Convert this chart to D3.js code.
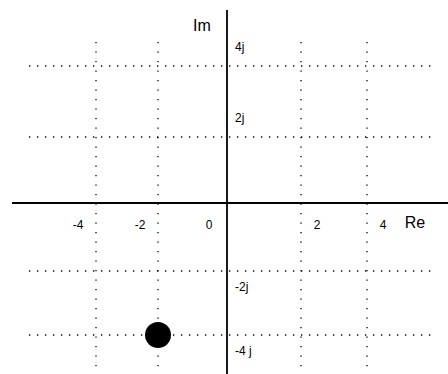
<!DOCTYPE html>
<html>
<head>
<meta charset="utf-8">
<script src="https://cdn.jsdelivr.net/npm/d3@7"></script>
<style>
  body { margin: 0; background: #fff; }
  text { font-family: "Liberation Sans", Arial, sans-serif; fill: #000; }
</style>
</head>
<body>
<div id="chart"></div>
<script>
const WIDTH = 448;
const HEIGHT = 374;

// tick values and labels
const reTicks = [-4, -2, 0, 2, 4];
const reLabels = ["-4", "-2", "0", "2", "4"];
const imTicks = [4, 2, -2, -4];
const imLabels = ["4j", "2j", "-2j", "-4 j"];
const gridRe = [-4, -2, 2, 4];
const gridIm = [4, 2, -2, -4];

// the point in the plane
const pointRe = [-2];
const pointIm = [-4];

const svg = d3.select("#chart")
  .append("svg")
  .attr("width", WIDTH)
  .attr("height", HEIGHT);

// the grid in the picture is not evenly spaced, so piecewise scales
const x = d3.scaleLinear()
  .domain([-4, -2, 0, 2, 4])
  .range([96, 158, 227, 301, 367]);

const y = d3.scaleLinear()
  .domain([-4, -2, 0, 2, 4])
  .range([335, 271, 203, 137, 66]);

// dotted grid
svg.append("g")
  .selectAll("line")
  .data(gridIm)
  .join("line")
  .attr("x1", 29)
  .attr("x2", 434)
  .attr("y1", d => y(d))
  .attr("y2", d => y(d))
  .attr("stroke", "#000")
  .attr("stroke-width", 1.3)
  .attr("stroke-dasharray", "1.3,6.7");

svg.append("g")
  .selectAll("line")
  .data(gridRe)
  .join("line")
  .attr("x1", d => x(d))
  .attr("x2", d => x(d))
  .attr("y1", 42)
  .attr("y2", HEIGHT)
  .attr("stroke", "#000")
  .attr("stroke-width", 1.3)
  .attr("stroke-dasharray", "1.3,8.2");

// axes
svg.append("line")
  .attr("x1", 12).attr("x2", WIDTH)
  .attr("y1", y(0)).attr("y2", y(0))
  .attr("stroke", "#000")
  .attr("stroke-width", 1.8);

svg.append("line")
  .attr("x1", x(0)).attr("x2", x(0))
  .attr("y1", 10).attr("y2", HEIGHT)
  .attr("stroke", "#000")
  .attr("stroke-width", 1.8);

// tick labels
svg.append("g")
  .selectAll("text")
  .data(reTicks)
  .join("text")
  .attr("x", d => x(d) + (d > 0 ? 16 : -18))
  .attr("y", y(0) + 26)
  .attr("font-size", 12)
  .attr("text-anchor", "middle")
  .text((d, i) => reLabels[i]);

svg.append("g")
  .selectAll("text")
  .data(imTicks)
  .join("text")
  .attr("x", x(0) + 8)
  .attr("y", d => y(d) + (d > 0 ? -18 : 17))
  .attr("font-size", 12)
  .attr("dominant-baseline", "middle")
  .text((d, i) => imLabels[i]);

// axis names
svg.append("text")
  .attr("x", 415)
  .attr("y", 228)
  .attr("font-size", 16)
  .attr("text-anchor", "middle")
  .text("Re");

svg.append("text")
  .attr("x", 202)
  .attr("y", 31)
  .attr("font-size", 16)
  .attr("text-anchor", "middle")
  .text("Im");

// point
svg.append("g")
  .selectAll("circle")
  .data(pointRe)
  .join("circle")
  .attr("cx", d => x(d))
  .attr("cy", (d, i) => y(pointIm[i]))
  .attr("r", 13)
  .attr("fill", "#000");
</script>
</body>
</html>
